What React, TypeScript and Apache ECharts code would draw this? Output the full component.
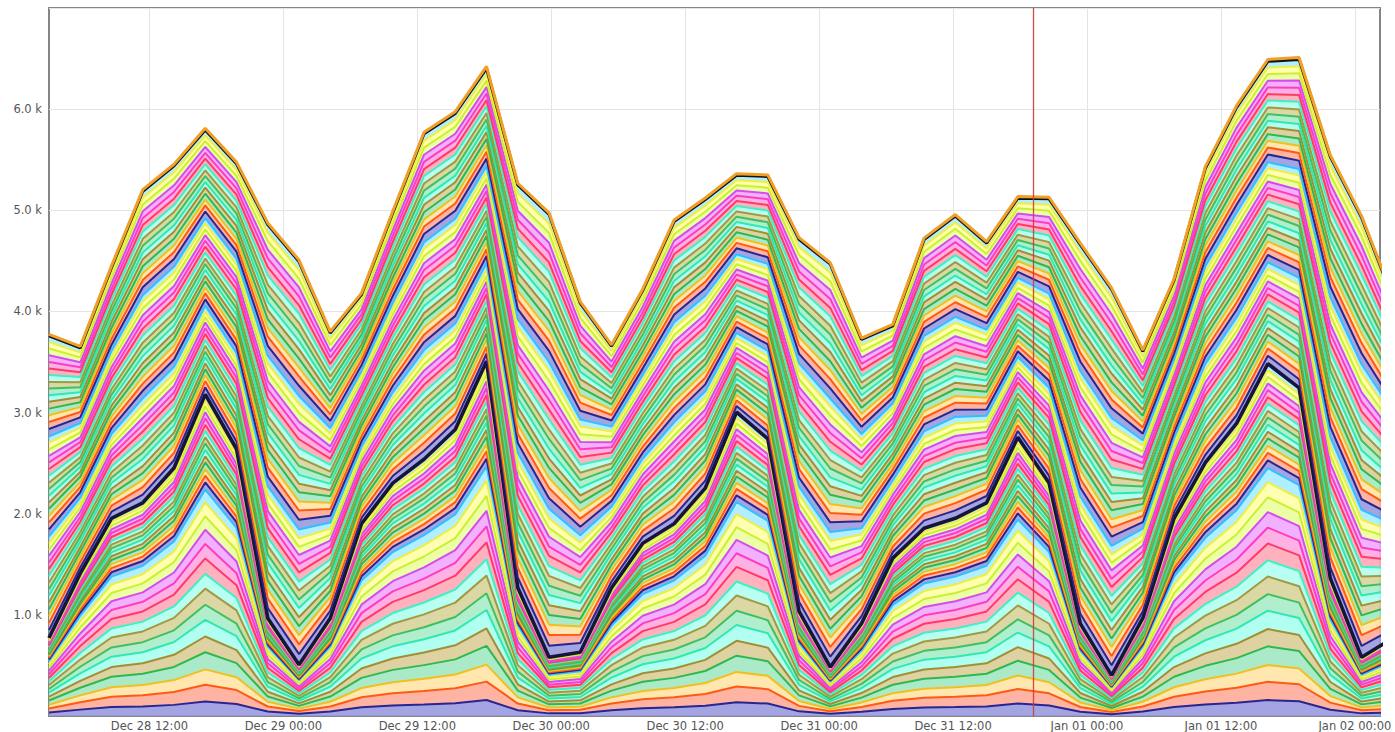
import { useEffect, useRef } from 'react';
import * as echarts from 'echarts';

// sample times (one sample every 2h48m)
const times = [
  '2013-12-28 03:00', '2013-12-28 05:48', '2013-12-28 08:36', '2013-12-28 11:24', '2013-12-28 14:12',
  '2013-12-28 17:00', '2013-12-28 19:48', '2013-12-28 22:36', '2013-12-29 01:24', '2013-12-29 04:12',
  '2013-12-29 07:00', '2013-12-29 09:48', '2013-12-29 12:36', '2013-12-29 15:24', '2013-12-29 18:12',
  '2013-12-29 21:00', '2013-12-29 23:48', '2013-12-30 02:36', '2013-12-30 05:24', '2013-12-30 08:12',
  '2013-12-30 11:00', '2013-12-30 13:48', '2013-12-30 16:36', '2013-12-30 19:24', '2013-12-30 22:12',
  '2013-12-31 01:00', '2013-12-31 03:48', '2013-12-31 06:36', '2013-12-31 09:24', '2013-12-31 12:12',
  '2013-12-31 15:00', '2013-12-31 17:48', '2013-12-31 20:36', '2013-12-31 23:24', '2014-01-01 02:12',
  '2014-01-01 05:00', '2014-01-01 07:48', '2014-01-01 10:36', '2014-01-01 13:24', '2014-01-01 16:12',
  '2014-01-01 19:00', '2014-01-01 21:48', '2014-01-02 00:36', '2014-01-02 03:24',
];

// x-axis tick labels (every 12 hours)
const xTicks = [
  '2013-12-28 12:00', '2013-12-29 00:00', '2013-12-29 12:00', '2013-12-30 00:00', '2013-12-30 12:00',
  '2013-12-31 00:00', '2013-12-31 12:00', '2014-01-01 00:00', '2014-01-01 12:00', '2014-01-02 00:00',
];

// total of the lower (first 30) layers, read at the thick dark boundary
const lowerGroup = [
  770, 1410, 1960, 2110, 2450, 3180, 2640, 970, 500, 970,
  1900, 2300, 2540, 2830, 3500, 1270, 580, 630, 1270, 1710,
  1900, 2250, 3010, 2740, 1030, 480, 920, 1560, 1860, 1960,
  2110, 2760, 2300, 920, 400, 970, 1960, 2500, 2890, 3480,
  3240, 1360, 580, 770,
];

// total of the upper (45) layers = top line minus thick boundary
const upperGroup = [
  2990, 2240, 2490, 3100, 2980, 2620, 2840, 3900, 4020, 2840,
  2280, 2690, 3230, 3140, 2900, 3980, 4390, 3470, 2400, 2500,
  2990, 2870, 2350, 2610, 3700, 4000, 2830, 2300, 2870, 3010,
  2570, 2370, 2830, 3760, 3840, 2650, 2360, 2930, 3140, 3020,
  3260, 4190, 4360, 3380,
];

// thin top layer (orange outline)
const topEdge = [
  14, 14, 15, 16, 16, 17, 16, 15, 15, 14,
  14, 15, 16, 17, 18, 16, 15, 14, 13, 14,
  15, 16, 16, 16, 15, 14, 13, 14, 15, 15,
  15, 16, 16, 15, 14, 13, 14, 16, 17, 18,
  18, 16, 15, 14,
];

// share of each layer inside its group
const lowerShares = [
  0.045, 0.052, 0.048, 0.053, 0.049, 0.052, 0.047, 0.05, 0.046, 0.048, 0.045, 0.044, 0.042, 0.043, 0.04,
  0.022, 0.021, 0.02, 0.021, 0.019, 0.02, 0.02, 0.019, 0.02, 0.019, 0.02, 0.019, 0.019, 0.018, 0.019,
];
const upperShares = [
  0.026, 0.024, 0.023, 0.022, 0.022, 0.023, 0.021, 0.022, 0.022, 0.023, 0.021, 0.022, 0.02, 0.021, 0.022,
  0.024, 0.023, 0.022, 0.023, 0.021, 0.022, 0.022, 0.021, 0.023, 0.022, 0.022, 0.021, 0.022, 0.022, 0.02,
  0.025, 0.023, 0.022, 0.022, 0.023, 0.021, 0.022, 0.022, 0.023, 0.021, 0.022, 0.022, 0.022, 0.021, 0.021,
];

const markerTime = '2013-12-31 19:10';

const lineColors = [
  '#262690', '#ff5a14', '#f0c020', '#30b850', '#a08f35', '#30e8b0', '#40c060', '#a09a40',
  '#40f0c0', '#ff3a6a', '#ff3cc0', '#d44cf0', '#ccf030', '#eeee44', '#30c0ff',
];
const fillColors = [
  '#9a9ae0', '#ffab98', '#ffe4a6', '#a2e8c2', '#dccd98', '#a8fff0', '#a8ecc8', '#d8d49c',
  '#b0fff0', '#ffa9b8', '#ffa8e0', '#f0a8ff', '#eaff9c', '#ffffa8', '#a8ecff',
];

const months = ['Jan', 'Feb', 'Mar', 'Apr', 'May', 'Jun', 'Jul', 'Aug', 'Sep', 'Oct', 'Nov', 'Dec'];
const pad = (n: number) => (n < 10 ? '0' + n : '' + n);
const toMs = (s: string) => {
  const [d, t] = s.split(' ');
  const [y, m, dd] = d.split('-').map(Number);
  const [hh, mm] = t.split(':').map(Number);
  return new Date(y, m - 1, dd, hh, mm).getTime();
};

export default function App() {
  const ref = useRef<HTMLDivElement>(null);
  useEffect(() => {
    const chart = echarts.init(ref.current!, null, { renderer: 'svg' });
    const shares = [...lowerShares, ...upperShares];
    const xs = times.map(toMs);
    // value first, time second, so that the stacked dimension is the value (y)
    const series: any[] = shares.map((share, k) => {
      const profile = k < lowerShares.length ? lowerGroup : upperGroup;
      const ci = k % lineColors.length;
      let lc = lineColors[ci];
      let lw = 2;
      if (k === lowerShares.length - 1) { lc = '#16163a'; lw = 3.6; }
      if (k === shares.length - 1) { lc = '#111111'; lw = 3; }
      return {
        type: 'line',
        name: 'layer ' + (k + 1),
        stack: 'total',
        encode: { x: 1, y: 0 },
        symbol: 'none',
        data: xs.map((t, i) => [Math.round(profile[i] * share), t]),
        lineStyle: { color: lc, width: lw },
        itemStyle: { color: lc },
        areaStyle: { color: fillColors[ci], opacity: 0.9 },
        emphasis: { disabled: true },
        silent: true,
      };
    });
    series.push({
      type: 'line',
      name: 'top',
      stack: 'total',
      encode: { x: 1, y: 0 },
      symbol: 'none',
      data: xs.map((t, i) => [topEdge[i], t]),
      lineStyle: { color: '#f0a028', width: 3 },
      itemStyle: { color: '#f0a028' },
      areaStyle: { color: '#f8c060', opacity: 1 },
      emphasis: { disabled: true },
      silent: true,
      markLine: {
        silent: true,
        symbol: ['none', 'none'],
        label: { show: false },
        itemStyle: { color: '#cc3a3a' },
        lineStyle: { color: '#cc3a3a', width: 1.3, type: 'solid', opacity: 0.9 },
        emphasis: { disabled: true },
        data: [{ xAxis: toMs(markerTime), lineStyle: { color: '#cc3a3a' } }],
      },
    });

    const tickValues = xTicks.map(toMs);

    chart.setOption({
      animation: false,
      backgroundColor: '#ffffff',
      grid: {
        left: 49, right: 15, top: 8, bottom: 16,
        show: true, borderColor: '#858585', borderWidth: 2,
      },
      xAxis: {
        type: 'value',
        min: toMs('2013-12-28 03:00'),
        max: toMs('2014-01-02 02:15'),
        axisLine: { lineStyle: { color: '#858585', width: 2 } },
        axisTick: { show: false, customValues: tickValues },
        splitLine: { show: true, lineStyle: { color: '#e4e4e4', width: 1 } },
        axisLabel: {
          customValues: tickValues,
          margin: 4,
          fontFamily: 'DejaVu Sans',
          fontSize: 11.5,
          color: '#555555',
          hideOverlap: false,
          showMinLabel: true,
          showMaxLabel: true,
          formatter: (v: number) => {
            const d = new Date(v);
            return `${months[d.getMonth()]} ${pad(d.getDate())} ${pad(d.getHours())}:${pad(d.getMinutes())}`;
          },
        },
      },
      yAxis: {
        type: 'value',
        min: 0,
        max: 7000,
        interval: 1000,
        axisLine: { show: false },
        axisTick: { show: false },
        splitLine: { show: true, lineStyle: { color: '#e4e4e4', width: 1 } },
        axisLabel: {
          margin: 7,
          fontFamily: 'DejaVu Sans',
          fontSize: 11.5,
          color: '#555555',
          formatter: (v: number) => (v === 0 || v >= 7000 ? '' : (v / 1000).toFixed(1) + ' k'),
        },
      },
      series,
    });
    return () => chart.dispose();
  }, []);
  return (
    <div
      ref={ref}
      style={{ position: 'fixed', left: 0, top: 0, width: 1395, height: 732, background: '#fff' }}
    />
  );
}
